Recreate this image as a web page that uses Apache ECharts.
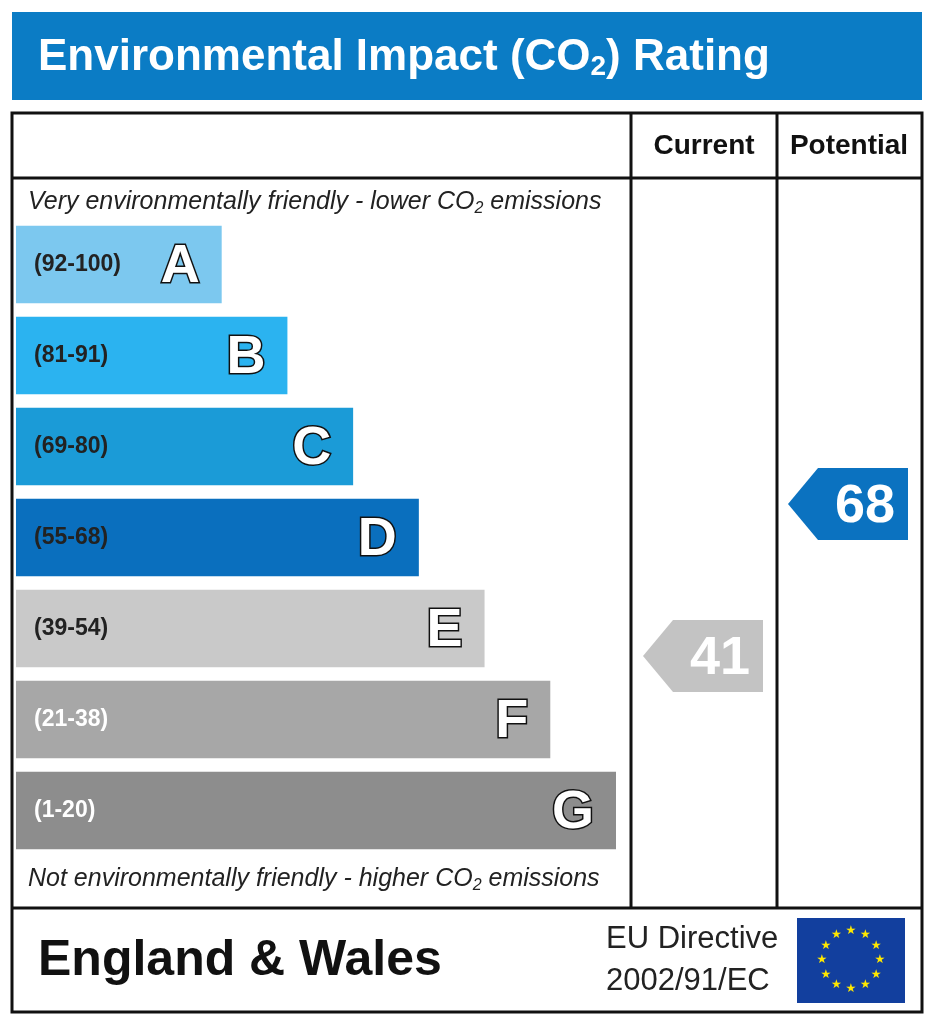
<!DOCTYPE html>
<html><head><meta charset="utf-8">
<script src="https://cdn.jsdelivr.net/npm/echarts@6/dist/echarts.min.js"></script>
<style>html,body{margin:0;background:#fff}#c{width:933px;height:1024px}</style>
</head><body><div id="c"></div>
<script>
const bands = ['A', 'B', 'C', 'D', 'E', 'F', 'G'];
const ranges = ['(92-100)', '(81-91)', '(69-80)', '(55-68)', '(39-54)', '(21-38)', '(1-20)'];
const barSteps = [1, 2, 3, 4, 5, 6, 7];
const bandColors = ['#7cc8ef', '#2bb3f0', '#1b9bd7', '#0a6fbe', '#c9c9c9', '#a7a7a7', '#8d8d8d'];
const rangeColors = ['#222', '#222', '#222', '#222', '#222', '#fff', '#fff'];
const columns = ['Current', 'Potential'];
const ratings = [41, 68];
const ratingColors = ['#c3c3c3', '#0b72c0'];

const chart = echarts.init(document.getElementById('c'));
const font = "'Liberation Sans', Arial, sans-serif";
const line = (x1, y1, x2, y2) => ({type: 'line', shape: {x1, y1, x2, y2}, style: {stroke: '#111', lineWidth: 3}, z: 10});

// EU flag stars
const stars = [];
for (let i = 0; i < 12; i++) {
    const a = i * Math.PI / 6;
    stars.push({type: 'text', x: 851 + 29 * Math.sin(a), y: 960 - 29 * Math.cos(a),
        style: {text: '★', fill: '#ffe800', font: "12px 'DejaVu Sans'", align: 'center', verticalAlign: 'middle'}, z: 12});
}

const italicRow = (y, text) => ({type: 'text', x: 28, y, style: {
    text: '{t|' + text[0] + '}{s|2}{t|' + text[1] + '}', verticalAlign: 'middle',
    rich: {t: {fill: '#222', font: 'italic 25px ' + font}, s: {fill: '#222', font: 'italic 16px ' + font, padding: [14, 0, 0, 0]}}}});

chart.setOption({
    animation: false,
    grid: [
        {left: 16, right: 317, top: 219, height: 637},
        {left: 632, right: 11, top: 324, height: 557}
    ],
    xAxis: [
        {gridIndex: 0, type: 'value', min: -2.13, max: 7, show: false},
        {gridIndex: 1, type: 'category', data: columns, show: false}
    ],
    yAxis: [
        {gridIndex: 0, type: 'category', data: bands, inverse: true, show: false},
        {gridIndex: 1, type: 'value', min: 1, max: 100, show: false}
    ],
    series: [{
        type: 'custom', xAxisIndex: 0, yAxisIndex: 0,
        data: barSteps.map((v, i) => [i, v]),
        renderItem(params, api) {
            const i = api.value(0);
            const end = api.coord([api.value(1), i]);
            const start = api.coord([-2.13, i]);
            const h = api.size([0, 1])[1] * 0.85;
            return {type: 'group', children: [
                {type: 'rect', shape: {x: start[0], y: end[1] - h / 2, width: end[0] - start[0], height: h}, style: {fill: bandColors[i]}},
                {type: 'text', x: start[0] + 18, y: end[1], style: {text: ranges[i], fill: rangeColors[i], font: 'bold 23px ' + font, verticalAlign: 'middle'}},
                {type: 'text', x: end[0] - 22, y: end[1] + 3, style: {text: bands[i], fill: '#fff', stroke: '#111', lineWidth: 3, font: 'bold 54px ' + font, align: 'right', verticalAlign: 'middle'}}
            ]};
        }
    }, {
        type: 'custom', xAxisIndex: 1, yAxisIndex: 1,
        data: ratings.map((v, i) => [i, v]),
        renderItem(params, api) {
            const i = api.value(0);
            const c = api.coord([i, api.value(1)]);
            const w = api.size([1, 0])[0];
            const x0 = c[0] - w / 2 + 11, x1 = c[0] + w / 2 - 14, h = 72;
            return {type: 'group', children: [
                {type: 'polygon', shape: {points: [[x0, c[1]], [x0 + 30, c[1] - h / 2], [x1, c[1] - h / 2], [x1, c[1] + h / 2], [x0 + 30, c[1] + h / 2]]}, style: {fill: ratingColors[i]}},
                {type: 'text', x: (x0 + 30 + x1) / 2 + 2, y: c[1] + 3, style: {text: String(api.value(1)), fill: '#fff', font: 'bold 54px ' + font, align: 'center', verticalAlign: 'middle'}}
            ]};
        }
    }],
    graphic: [
        {type: 'rect', shape: {x: 12, y: 12, width: 910, height: 88}, style: {fill: '#0b7cc5'}},
        {type: 'text', x: 38, y: 58, style: {
            text: '{t|Environmental Impact (CO}{s|2}{t|) Rating}', verticalAlign: 'middle',
            rich: {t: {fill: '#fff', font: 'bold 44px ' + font}, s: {fill: '#fff', font: 'bold 28px ' + font, padding: [18, 0, 0, 0]}}}},
        {type: 'rect', shape: {x: 12, y: 113, width: 910, height: 899}, style: {fill: 'none', stroke: '#111', lineWidth: 3}, z: 10},
        line(12, 178, 922, 178), line(631, 113, 631, 908), line(777, 113, 777, 908), line(12, 908, 922, 908),
        {type: 'text', x: 704, y: 146, style: {text: 'Current', fill: '#111', font: 'bold 28px ' + font, align: 'center', verticalAlign: 'middle'}},
        {type: 'text', x: 849, y: 146, style: {text: 'Potential', fill: '#111', font: 'bold 28px ' + font, align: 'center', verticalAlign: 'middle'}},
        italicRow(202, ['Very environmentally friendly - lower CO', ' emissions']),
        italicRow(879, ['Not environmentally friendly - higher CO', ' emissions']),
        {type: 'text', x: 38, y: 961, style: {text: 'England & Wales', fill: '#111', font: 'bold 50px ' + font, verticalAlign: 'middle'}},
        {type: 'text', x: 606, y: 939, style: {text: 'EU Directive', fill: '#222', font: '31px ' + font, verticalAlign: 'middle'}},
        {type: 'text', x: 606, y: 981, style: {text: '2002/91/EC', fill: '#222', font: '31px ' + font, verticalAlign: 'middle'}},
        {type: 'rect', shape: {x: 797, y: 918, width: 108, height: 85}, style: {fill: '#123f9e'}, z: 11},
        ...stars
    ]
});
</script></body></html>
